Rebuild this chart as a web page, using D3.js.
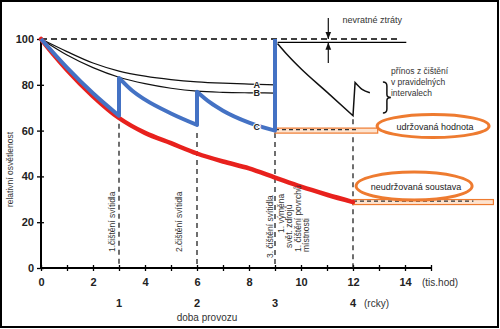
<!DOCTYPE html>
<html>
<head>
<meta charset="utf-8">
<script src="https://cdn.jsdelivr.net/npm/d3@7"></script>
<style>
  body { margin: 0; background: #fff; }
  svg { display: block; font-family: "Liberation Sans", Arial, sans-serif; }
</style>
</head>
<body>
<svg id="chart" width="500" height="329"></svg>
<script>
// hours of operation (tis. hod) and relative illuminance (%)
var hourTicks = [0, 2, 4, 6, 8, 10, 12, 14];
var yTicks = [0, 20, 40, 60, 80, 100];
var cleanHours = [3, 6, 9, 12];
var yearLabels = ['1', '2', '3', '4'];
var cleanTops = [63, 59, 59, 65];

// unmaintained system (red)
var redX = [0, 0.5, 1, 2, 3, 4, 5, 6, 7, 8, 9, 10, 11, 12];
var redY = [100, 93, 86.5, 75, 65.5, 59, 54.5, 50, 46.5, 43.5, 39.5, 35.5, 32, 28.8];

// cleaned system (blue), one array per cleaning interval
var blue1X = [0, 1, 2, 3], blue1Y = [100, 87.5, 76.3, 66.5];
var blue2X = [3, 3.5, 4, 5, 6], blue2Y = [83, 77.5, 73.5, 67.5, 62.5];
var blue3X = [6, 6.5, 7, 8, 9], blue3Y = [77, 72.3, 68.7, 63.5, 60];

// curves A and B
var curveX = [0, 1, 2, 3, 4, 5, 6, 7, 8, 9];
var curveA = [100, 94.5, 89.5, 86, 83.8, 82.3, 81.3, 80.7, 80.3, 80];
var curveB = [100, 93, 87.5, 83.3, 80.5, 78.5, 77.2, 76.7, 76.5, 76.4];

// after relamping at 9
var after1X = [9.1, 9.5, 10, 11, 12], after1Y = [98, 92.8, 87, 76.8, 66.5];
var after2X = [12.08, 12.35, 12.65], after2Y = [81, 78, 76.5];

var maintained = 60, unmaintained = 28.8, irrecoverable = 98.5;

var svg = d3.select('#chart')
  , font = '"Liberation Sans", Arial, sans-serif'
  , blue = '#4472c4'
  , red = '#e8211d'
  , orange = '#ee7b30';

var x = d3.scaleLinear().domain([0, 14]).range([41, 405]);
var y = d3.scaleLinear().domain([0, 100]).range([268, 39]);

function pts(xs, ys) { return xs.map(function(v, i) { return [v, ys[i]]; }); }

var line = d3.line()
  .x(function(d) { return x(d[0]); })
  .y(function(d) { return y(d[1]); })
  .curve(d3.curveMonotoneX);

// frame
svg.append('rect').attr('x', 1).attr('y', 1).attr('width', 497).attr('height', 326)
  .attr('fill', 'none').attr('stroke', '#000').attr('stroke-width', 2);

// x axis
var xAxis = d3.axisBottom(x).tickValues(d3.range(0, 16)).tickSize(3)
  .tickFormat(function(d) { return hourTicks.indexOf(d) >= 0 ? d : ''; });
var gx = svg.append('g').attr('transform', 'translate(0,' + y(0) + ')').call(xAxis);
gx.select('.domain').remove();
gx.selectAll('.tick line').attr('y1', -3).attr('y2', 3).attr('stroke-width', 1.3);
gx.selectAll('.tick text').attr('y', 18).attr('dy', 0)
  .attr('font-size', 11).attr('font-weight', 'bold').attr('font-family', font).attr('fill', '#222');
gx.append('line').attr('x1', x(0)).attr('x2', x(15)).attr('stroke', '#000').attr('stroke-width', 2);

// y axis
var yAxis = d3.axisLeft(y).tickValues(yTicks).tickSize(4);
var gy = svg.append('g').attr('transform', 'translate(' + x(0) + ',0)').call(yAxis);
gy.select('.domain').remove();
gy.selectAll('.tick line').attr('x1', 3).attr('x2', -4).attr('stroke-width', 1.3);
gy.selectAll('.tick text').attr('x', -7)
  .attr('font-size', 11).attr('font-weight', 'bold').attr('font-family', font).attr('fill', '#222');
gy.append('line').attr('y1', y(0)).attr('y2', y(100)).attr('stroke', '#000').attr('stroke-width', 2);

// axis titles
svg.append('text').attr('transform', 'translate(13,' + y(43) + ') rotate(-90)')
  .attr('text-anchor', 'middle').attr('font-size', 8.5).attr('fill', '#333')
  .text('relativní osvětlenost');
svg.selectAll('.year').data(yearLabels).enter().append('text')
  .attr('x', function(d, i) { return x(cleanHours[i]); }).attr('y', 307)
  .attr('text-anchor', 'middle').attr('font-size', 11).attr('font-weight', 'bold').attr('fill', '#222')
  .text(function(d) { return d; });
svg.append('text').attr('x', x(12) + 11).attr('y', 307).attr('font-size', 10).attr('fill', '#333').text('(rcky)');
svg.append('text').attr('x', x(14) + 17).attr('y', 286).attr('font-size', 10).attr('fill', '#333').text('(tis.hod)');
svg.append('text').attr('x', 207).attr('y', 321).attr('text-anchor', 'middle')
  .attr('font-size', 10).attr('fill', '#333').text('doba provozu');

// reference lines
svg.append('line').attr('x1', x(0)).attr('x2', x(13.8)).attr('y1', y(100)).attr('y2', y(100))
  .attr('stroke', '#000').attr('stroke-width', 1.5).attr('stroke-dasharray', '6,4');
svg.append('line').attr('x1', x(9.1)).attr('x2', x(14.05)).attr('y1', y(irrecoverable)).attr('y2', y(irrecoverable))
  .attr('stroke', '#000').attr('stroke-width', 1.3);

// cleaning verticals
svg.selectAll('.clean').data(cleanHours).enter().append('line')
  .attr('x1', function(d) { return x(d); }).attr('x2', function(d) { return x(d); })
  .attr('y1', function(d, i) { return y(cleanTops[i]); }).attr('y2', y(0))
  .attr('stroke', '#222').attr('stroke-width', 1.3).attr('stroke-dasharray', '5,4');

// orange bands
function band(x0, x1, v) {
  svg.append('rect').attr('x', x(x0)).attr('width', x(x1) - x(x0))
    .attr('y', y(v) - 2.5).attr('height', 5)
    .attr('fill', '#fde3cf').attr('stroke', orange).attr('stroke-width', 1.2);
  svg.append('line').attr('x1', x(x0)).attr('x2', x(x1) - 20).attr('y1', y(v) - 1).attr('y2', y(v) - 1)
    .attr('stroke', '#333').attr('stroke-width', 1.2).attr('stroke-dasharray', '4,3');
}
band(9, 12.95, maintained);
band(12, 17.4, unmaintained);

// curves A, B
[curveA, curveB].forEach(function(c) {
  svg.append('path').attr('d', line(pts(curveX, c)))
    .attr('fill', 'none').attr('stroke', '#111').attr('stroke-width', 1.2);
});
svg.append('path').attr('d', line(pts(after1X, after1Y)) + line(pts(after2X, after2Y)).replace(/^M/, 'L'))
  .attr('fill', 'none').attr('stroke', '#111').attr('stroke-width', 1.5);

// red unmaintained curve
svg.append('path').attr('d', line(pts(redX, redY)))
  .attr('fill', 'none').attr('stroke', red).attr('stroke-width', 4.5).attr('stroke-linecap', 'round');

// blue maintained curve
var bluePath = line(pts(blue1X, blue1Y))
  + line(pts(blue2X, blue2Y)).replace(/^M/, 'L')
  + line(pts(blue3X, blue3Y)).replace(/^M/, 'L')
  + 'L' + x(9) + ',' + y(100);
svg.append('path').attr('d', bluePath)
  .attr('fill', 'none').attr('stroke', blue).attr('stroke-width', 4).attr('stroke-linejoin', 'round');

// A, B, C labels
[['A', 80.3], ['B', 76.5], ['C', 62]].forEach(function(l) {
  svg.append('text').attr('x', x(8.3)).attr('y', y(l[1]) + 3.5).attr('text-anchor', 'middle')
    .attr('font-size', 9).attr('font-weight', 'bold').attr('fill', '#222')
    .attr('stroke', '#fff').attr('stroke-width', 2).attr('paint-order', 'stroke')
    .text(l[0]);
});

// rotated cleaning labels
var rot = [
  [x(3) - 4, 252, '1.čištění svítidla'],
  [x(6) - 15, 252, '2.čištění svítidla'],
  [x(9) - 2, 258, '3. čištění svítidla'],
  [x(9) + 9, 233, '1. výměna'],
  [x(9) + 17, 248, 'svět. zdrojů'],
  [x(9) + 26, 252, '1. čištění povrchů'],
  [x(9) + 34, 252, 'místnosti']
];
rot.forEach(function(r) {
  svg.append('text').attr('transform', 'translate(' + r[0] + ',' + r[1] + ') rotate(-90)')
    .attr('font-size', 8.5).attr('fill', '#333').text(r[2]);
});

// irrecoverable losses arrows
var ax = x(11.05);
svg.append('defs').append('marker').attr('id', 'arr').attr('viewBox', '0 0 10 10')
  .attr('refX', 10).attr('refY', 5).attr('markerWidth', 6).attr('markerHeight', 6)
  .attr('orient', 'auto-start-reverse')
  .append('path').attr('d', 'M0,1L10,5L0,9Z').attr('fill', '#111');
svg.append('line').attr('x1', ax).attr('x2', ax).attr('y1', 18).attr('y2', y(100))
  .attr('stroke', '#111').attr('stroke-width', 1.2).attr('marker-end', 'url(#arr)');
svg.append('line').attr('x1', ax).attr('x2', ax).attr('y1', 63).attr('y2', y(irrecoverable))
  .attr('stroke', '#111').attr('stroke-width', 1.2).attr('marker-end', 'url(#arr)');
svg.append('text').attr('x', x(11.6)).attr('y', 23).attr('font-size', 9).attr('fill', '#333').text('nevratné ztráty');

// benefit note with brace
var bx = x(13.15), bt = y(81.2), bb = y(67.7), bm = (bt + bb) / 2;
svg.append('path')
  .attr('d', 'M' + bx + ',' + bt + 'q4,0 4,4V' + (bm - 3) + 'q0,3 4,3q-4,0 -4,3V' + (bb - 4) + 'q0,4 -4,4')
  .attr('fill', 'none').attr('stroke', '#111').attr('stroke-width', 1.5);
['přínos z čištění', 'v pravidelných', 'intervalech'].forEach(function(t, i) {
  svg.append('text').attr('x', x(13.46)).attr('y', 74 + i * 11).attr('font-size', 8.5).attr('fill', '#333').text(t);
});

// ellipses
function oval(cx, cv, rx, ry, label) {
  svg.append('ellipse').attr('cx', x(cx)).attr('cy', y(cv)).attr('rx', rx).attr('ry', ry)
    .attr('fill', 'none').attr('stroke', orange).attr('stroke-width', 3);
  svg.append('text').attr('x', x(cx) + 2).attr('y', y(cv) + 3.5).attr('text-anchor', 'middle')
    .attr('font-size', 9).attr('fill', '#222').text(label);
}
oval(15.08, 62, 56, 11.5, 'udržovaná hodnota');
oval(14.35, 35.8, 58, 14, 'neudržovaná soustava');
</script>
</body>
</html>
